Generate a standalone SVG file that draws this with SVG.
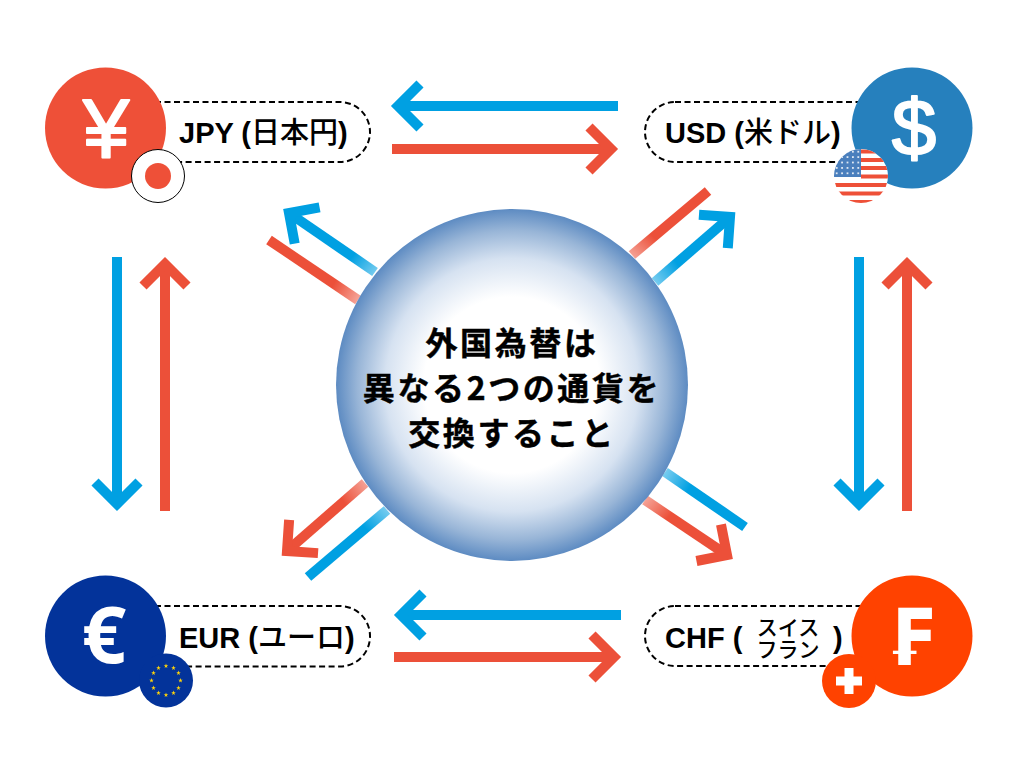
<svg xmlns="http://www.w3.org/2000/svg" width="1024" height="768" viewBox="0 0 1024 768">
<style>
.pill{fill:#fff;stroke:#000;stroke-width:2;stroke-dasharray:6 3.500}
.a{fill:none;stroke-width:10}
.b{stroke:#00a0e2;marker-end:url(#hb)}
.r{stroke:#ec5039;marker-end:url(#hr)}
.bn{stroke:#00a0e2}.rn{stroke:#ec5039}
.lab{font:bold 29px "Liberation Sans","Noto Sans CJK JP",sans-serif;fill:#000}
.cj{font-family:"Noto Sans CJK JP",sans-serif;font-weight:500;font-size:29px}
.sm{font:500 21px "Noto Sans CJK JP",sans-serif;fill:#000;text-anchor:middle}
.ct{font:bold 32px "Noto Sans CJK JP",sans-serif;letter-spacing:2.600px;fill:#000;stroke:#000;stroke-width:.4;text-anchor:middle}
.sy{fill:#fff;text-anchor:middle;stroke:#fff;stroke-linejoin:round}
</style>
<defs>
<marker id="hb" markerUnits="userSpaceOnUse" markerWidth="60" markerHeight="60" refX="30" refY="30" orient="auto" overflow="visible"><path d="M8 8L30 30L8 52" fill="none" stroke="#00a0e2" stroke-width="10"/></marker>
<marker id="hr" markerUnits="userSpaceOnUse" markerWidth="60" markerHeight="60" refX="30" refY="30" orient="auto" overflow="visible"><path d="M8 8L30 30L8 52" fill="none" stroke="#ec5039" stroke-width="10"/></marker>
<radialGradient id="ball" gradientUnits="userSpaceOnUse" cx="512" cy="385" r="176">
<stop offset="0.5" stop-color="#fff"/><stop offset="0.72" stop-color="#d6e2f1"/><stop offset="0.88" stop-color="#98b5d7"/><stop offset="1" stop-color="#5d8bc2"/>
</radialGradient>
<radialGradient id="glow" gradientUnits="userSpaceOnUse" cx="512" cy="385" r="205">
<stop offset="0.85" stop-color="#fff" stop-opacity="0.5"/><stop offset="1" stop-color="#fff" stop-opacity="0"/>
</radialGradient>
<clipPath id="usclip"><circle cx="861" cy="176" r="27"/></clipPath>
<pattern id="st" patternUnits="userSpaceOnUse" x="834" y="149" width="5.400" height="5.400"><circle cx="2.700" cy="2.700" r="1" fill="#fff"/></pattern>
<polygon id="star" points="0,-2.400 .6,-.8 2.300,-.8 .9,.3 1.400,2 0,1 -1.400,2 -.9,.3 -2.300,-.8 -.6,-.8" fill="#fdd20a"/>
</defs>
<rect width="1024" height="768" fill="#fff"/>
<g id="connectors">
<path class="a b" d="M618 106H398"/>
<path class="a r" d="M392 149H611"/>
<path class="a b" d="M117 257V504"/>
<path class="a r" d="M165 511V264"/>
<path class="a b" d="M859 257V504"/>
<path class="a r" d="M907 511V264"/>
<path class="a b" d="M621 615H401"/>
<path class="a r" d="M394 657H614"/>
<path class="a b" d="M375 272L289 213"/>
<path class="a rn" d="M358 300L269 240"/>
<path class="a rn" d="M632 255L708 191"/>
<path class="a b" d="M655 282L730 217"/>
<path class="a r" d="M365 483L287 551"/>
<path class="a bn" d="M387 510L308 577"/>
<path class="a bn" d="M665 472L745 527"/>
<path class="a r" d="M645 500L727 555"/>
<circle cx="512" cy="385" r="205" fill="url(#glow)"/>
</g>
<g id="center">
<circle cx="512" cy="385" r="176" fill="url(#ball)"/>
<text class="ct" x="512" y="355">外国為替は</text>
<text class="ct" x="512" y="400">異なる2つの通貨を</text>
<text class="ct" x="512" y="445">交換すること</text>
</g>
<g id="jpy">
<rect class="pill" x="125" y="102" width="245" height="60" rx="30"/>
<circle cx="105.500" cy="128" r="60.500" fill="#ee5038"/>
<text class="sy" x="106" y="157" stroke-width="2" style="font:83px 'Liberation Sans',sans-serif">¥</text>
<circle cx="158" cy="176" r="26.500" fill="#fff" stroke="#000" stroke-width="1"/>
<circle cx="158" cy="176" r="13" fill="#ee5038"/>
<text class="lab" x="179" y="143">JPY (<tspan class="cj">日本円</tspan>)</text>
</g>
<g id="usd">
<rect class="pill" x="645" y="102" width="245" height="60" rx="30"/>
<circle cx="912" cy="128" r="60.500" fill="#2680bd"/>
<text class="sy" x="914" y="155" stroke-width="2" style="font:80px 'Liberation Sans',sans-serif">$</text>
<g clip-path="url(#usclip)">
<rect x="834" y="149" width="54" height="54" fill="#fff"/>
<path d="M861 151.500h27M861 160h27M861 168h27M834 185h54M834 193.500h54M834 202h54M861 176.500h27" stroke="#ee5038" stroke-width="4.200" fill="none"/>
<rect x="834" y="149" width="27" height="28" fill="#4a7fbd"/>
<rect x="834" y="149" width="27" height="28" fill="url(#st)"/>
</g>
<text class="lab" x="665" y="143">USD (<tspan class="cj">米ドル</tspan>)</text>
</g>
<g id="eur">
<rect class="pill" x="125" y="606" width="245" height="60.500" rx="30"/>
<circle cx="105.500" cy="636" r="60.500" fill="#03339a"/>
<text class="sy" x="104" y="663" stroke-width="0" style="font:bold 78px 'Noto Sans',sans-serif">€</text>
<circle cx="166" cy="680.500" r="27" fill="#03339a"/>
<use href="#star" x="166" y="666"/><use href="#star" x="173.500" y="668"/><use href="#star" x="178.500" y="673"/><use href="#star" x="180.500" y="680.500"/><use href="#star" x="178.500" y="688"/><use href="#star" x="173.500" y="693"/><use href="#star" x="166" y="695"/><use href="#star" x="158.500" y="693"/><use href="#star" x="153.500" y="688"/><use href="#star" x="151.500" y="680.500"/><use href="#star" x="153.500" y="673"/><use href="#star" x="158.500" y="668"/>
<text class="lab" x="179" y="648">EUR (<tspan class="cj">ユーロ</tspan>)</text>
</g>
<g id="chf">
<rect class="pill" x="645" y="606" width="245" height="60" rx="30"/>
<circle cx="912" cy="636" r="60.500" fill="#ff4200"/>
<text class="sy" transform="translate(911 665) scale(.85 1)" stroke-width="0" style="font:bold 78px 'DejaVu Sans',sans-serif;">₣</text>
<circle cx="849" cy="681" r="27" fill="#ff4200"/>
<path d="M844.500 668h9v8.500h8.500v9h-8.500v8.500h-9v-8.500h-8.500v-9h8.500z" fill="#fff"/>
<text class="lab" x="665" y="648">CHF (</text>
<text class="sm" y="635"><tspan x="788">スイス</tspan><tspan x="788" dy="22">フラン</tspan></text>
<text class="lab" x="833" y="648">)</text>
</g>
</svg>
